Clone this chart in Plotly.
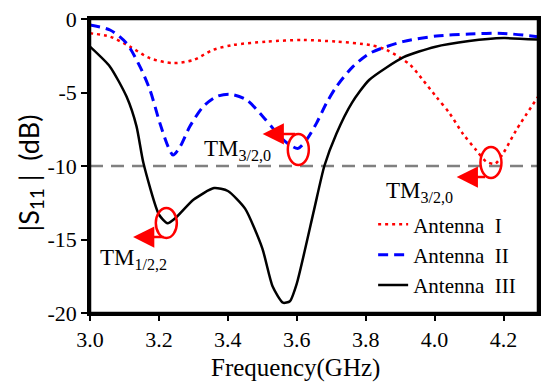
import plotly.graph_objects as go

# Antenna I (red dotted)
freq_1 = [3.0, 3.058, 3.116, 3.174, 3.241, 3.3, 3.357, 3.415, 3.512, 3.618, 3.715, 3.812,
          3.86, 3.928, 3.966, 4.005, 4.043, 4.082, 4.12, 4.15, 4.175, 4.2, 4.237, 4.3]
s11_1 = [-0.97, -1.2, -1.88, -2.67, -3.0, -2.79, -2.1, -1.77, -1.54, -1.43, -1.54, -1.77,
         -2.1, -3.1, -4.15, -5.3, -6.4, -7.8, -8.9, -9.7, -9.85, -9.1, -7.55, -5.3]

# Antenna II (blue dashed)
freq_2 = [3.0, 3.058, 3.106, 3.145, 3.174, 3.203, 3.227, 3.241, 3.261, 3.29, 3.328, 3.367,
          3.406, 3.454, 3.502, 3.531, 3.551, 3.58, 3.604, 3.628, 3.657, 3.686, 3.715, 3.763,
          3.812, 3.908, 4.005, 4.101, 4.198, 4.3]
s11_2 = [-0.41, -0.75, -1.65, -3.24, -4.83, -7.1, -8.7, -9.25, -8.7, -7.3, -5.97, -5.28,
         -5.12, -5.5, -6.65, -7.44, -8.0, -8.57, -8.8, -8.23, -7.1, -5.73, -4.6, -3.24,
         -2.33, -1.54, -1.16, -1.02, -0.98, -1.2]

# Antenna III (black solid)
freq_3 = [3.0, 3.058, 3.106, 3.135, 3.155, 3.2, 3.225, 3.25, 3.3, 3.36, 3.4, 3.45, 3.5,
          3.53, 3.56, 3.58, 3.6, 3.65, 3.68, 3.715, 3.76, 3.81, 3.91, 4.0, 4.1, 4.2, 4.3]
s11_3 = [-1.88, -3.24, -5.28, -7.3, -9.8, -13.3, -13.9, -13.5, -12.3, -11.5, -11.7, -12.9, -15.6,
         -18.2, -19.3, -19.2, -18.0, -13.0, -10.0, -7.8, -5.7, -4.15, -2.6, -1.9, -1.5, -1.3, -1.4]

names = ["Antenna\u00a0\u00a0I", "Antenna\u00a0\u00a0II", "Antenna\u00a0\u00a0III"]
threshold = -10

x_ticks = [3.0, 3.2, 3.4, 3.6, 3.8, 4.0, 4.2]
y_ticks = [0, -5, -10, -15, -20]

SERIF = "Liberation Serif, Times New Roman, serif"
SANS = "Lato, Open Sans, sans-serif"

fig = go.Figure()
fig.add_trace(go.Scatter(x=[3.0, 4.3], y=[threshold, threshold], mode="lines",
                         line=dict(color="#808080", width=2.5, dash="13px,8px"),
                         showlegend=False, hoverinfo="skip"))
fig.add_trace(go.Scatter(x=freq_1, y=s11_1, mode="lines", name=names[0],
                         line=dict(color="#ff0000", width=2.5, dash="3px,4px", shape="spline", smoothing=0.8)))
fig.add_trace(go.Scatter(x=freq_2, y=s11_2, mode="lines", name=names[1],
                         line=dict(color="#0000ff", width=3, dash="10px,6px", shape="spline", smoothing=0.8)))
fig.add_trace(go.Scatter(x=freq_3, y=s11_3, mode="lines", name=names[2],
                         line=dict(color="#000000", width=2.5, shape="spline", smoothing=0.6)))

# plot frame
fig.add_shape(type="rect", xref="paper", yref="paper", x0=0, x1=1, y0=0, y1=1,
              line=dict(color="black", width=2.5), layer="above")

# ellipses
ellipses = [(3.191, 3.252, -12.86, -14.90), (3.574, 3.635, -7.82, -9.93), (4.133, 4.194, -8.71, -10.82)]
for x0, x1, y0, y1 in ellipses:
    fig.add_shape(type="circle", xref="x", yref="y", x0=x0, x1=x1, y0=y0, y1=y1,
                  line=dict(color="#ff0000", width=2.5))

# arrows
arrows = [(3.125, -14.83, 32), (3.501, -7.82, 34), (4.064, -10.75, 30)]
for ax_, ay_, off in arrows:
    fig.add_annotation(x=ax_, y=ay_, xref="x", yref="y", text="", showarrow=True,
                       ax=off, ay=0, arrowhead=2, arrowsize=1.7, arrowwidth=2.5,
                       arrowcolor="#ff0000")

labels = [(3.429, -8.9, "TM<sub>3/2,0</sub>"), (3.957, -11.8, "TM<sub>3/2,0</sub>"),
          (3.125, -16.3, "TM<sub>1/2,2</sub>")]
for lx, ly, t in labels:
    fig.add_annotation(x=lx, y=ly, xref="x", yref="y", text=t, showarrow=False,
                       font=dict(family=SERIF, size=23, color="black"))

# axis titles
fig.add_annotation(x=0.4576, y=0, xref="paper", yref="paper", yshift=-55, yanchor="middle",
                   text="Frequency(GHz)", showarrow=False,
                   font=dict(family=SERIF, size=25, color="black"))
fig.add_annotation(x=0, y=0.4745, xref="paper", yref="paper", xshift=-60, xanchor="center",
                   yanchor="middle", textangle=-90,
                   text="|S<sub>11</sub>\u00a0|\u00a0\u00a0(dB)", showarrow=False,
                   font=dict(family=SANS, size=27, color="black"))

fig.update_layout(
    width=550, height=387,
    margin=dict(l=90, r=12, t=19, b=74),
    paper_bgcolor="white", plot_bgcolor="white",
    font=dict(family=SERIF, size=21, color="black"),
    legend=dict(x=0.632, y=0.37, xanchor="left", yanchor="top", bgcolor="rgba(0,0,0,0)",
                font=dict(family=SERIF, size=21, color="black"), tracegroupgap=0),
)
fig.update_xaxes(range=[3.0, 4.3], tickvals=x_ticks, ticktext=[f"{v:.1f}" for v in x_ticks],
                 ticks="outside", ticklen=5, tickwidth=2, tickcolor="black",
                 showline=True, linewidth=2.5, linecolor="black", mirror=True,
                 showgrid=False, zeroline=False, automargin=False, ticklabeloverflow="allow",
                 tickfont=dict(family=SERIF, size=22, color="black"))
fig.update_yaxes(range=[-20, 0], tickvals=y_ticks, ticktext=[str(v) for v in y_ticks],
                 ticks="outside", ticklen=6, tickwidth=2, tickcolor="black",
                 showline=True, linewidth=2.5, linecolor="black", mirror=True,
                 showgrid=False, zeroline=False, automargin=False, ticklabeloverflow="allow",
                 tickfont=dict(family=SERIF, size=22, color="black"))

fig.write_html("out.html", config={"displayModeBar": False},
               post_script="document.body.style.margin='0';document.body.style.overflow='hidden';")
